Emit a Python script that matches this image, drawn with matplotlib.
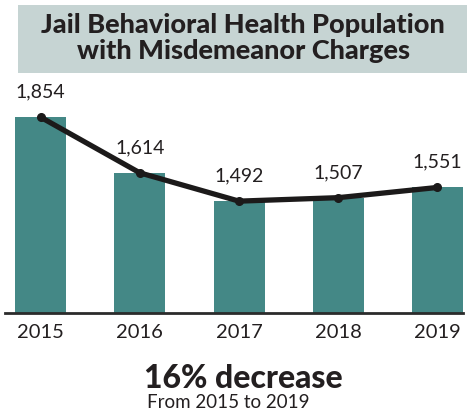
import matplotlib
matplotlib.use("Agg")
import matplotlib.pyplot as plt
from matplotlib.patches import Rectangle

years = ["2015", "2016", "2017", "2018", "2019"]
population = [1854, 1614, 1492, 1507, 1551]

plt.rcParams["font.family"] = ["Lato", "DejaVu Sans"]

W, H = 467, 417
fig = plt.figure(figsize=(W / 100, H / 100), dpi=100)

# title banner
fig.patches.append(Rectangle((18 / W, 1 - 73 / H), (467 - 18) / W, 68 / H,
                             transform=fig.transFigure, facecolor="#c6d4d3",
                             edgecolor="none", zorder=0))
fig.text(243 / W, 1 - 38 / H, "Jail Behavioral Health Population\nwith Misdemeanor Charges",
         ha="center", va="center", fontsize=19.5, fontweight="black",
         color="#231f20", linespacing=1.1)

ax = fig.add_axes([5 / W, 1 - 313 / H, 458 / W, 233 / H])
xs = list(range(len(years)))
ax.bar(xs, population, width=0.514, bottom=0, color="#448886", zorder=1)
ax.plot(xs, population, color="#1c1a1a", lw=3.8, marker="o", ms=5.5,
        solid_capstyle="round", zorder=3)
for x, v in zip(xs, population):
    ax.annotate("{:,}".format(v), (x, v), xytext=(0, 12), textcoords="offset points",
                ha="center", va="bottom", fontsize=14, color="#231f20")

ax.set_xlim(-0.358, 4.257)
ax.set_ylim(1010, 2014)
ax.set_xticks(xs)
ax.set_xticklabels(years, fontsize=14.5, color="#231f20")
ax.tick_params(axis="x", length=0, pad=8)
ax.set_yticks([])
for s in ["top", "left", "right"]:
    ax.spines[s].set_visible(False)
ax.spines["bottom"].set_color("#2b2b2b")
ax.spines["bottom"].set_linewidth(2)
ax.spines["bottom"].set_zorder(4)

fig.text(243 / W, 1 - 378 / H, "16% decrease", ha="center", va="center",
         fontsize=23, fontweight="black", color="#231f20")
fig.text(228 / W, 1 - 403 / H, "From 2015 to 2019", ha="center", va="center",
         fontsize=13.5, color="#231f20")

fig.savefig("out.png", dpi=100)
